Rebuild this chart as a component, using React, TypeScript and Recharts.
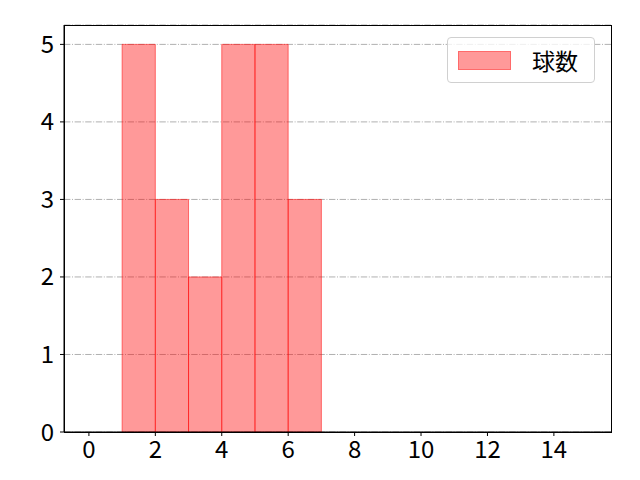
import { ComposedChart, Bar, XAxis, YAxis, CartesianGrid } from "recharts";

// histogram bins (left edge) and counts
const binStarts = [0, 1, 2, 3, 4, 5, 6, 7, 8, 9, 10, 11, 12, 13, 14];
const counts = [0, 5, 3, 2, 5, 5, 3, 0, 0, 0, 0, 0, 0, 0, 0];
const xTicks = [0, 2, 4, 6, 8, 10, 12, 14];
const yTicks = [0, 1, 2, 3, 4, 5];
const seriesName = "球数";

const data = binStarts.map((s, i) => ({ x: s + 0.5, count: counts[i] }));

const FONT = "'Noto Sans CJK JP', sans-serif";

function LegendBox() {
  return (
    <div
      style={{
        position: "absolute",
        left: 447,
        top: 37,
        width: 148,
        height: 46,
        border: "1px solid #d0d0d0",
        borderRadius: 4,
        background: "rgba(255,255,255,0.8)",
        display: "flex",
        alignItems: "center",
        fontFamily: FONT,
        fontSize: 23,
        color: "#000",
        boxSizing: "border-box",
      }}
    >
      <span
        style={{
          display: "inline-block",
          width: 53,
          height: 19,
          marginLeft: 10,
          background: "rgba(255,0,0,0.4)",
          border: "1px solid rgba(255,0,0,0.3)",
          boxSizing: "border-box",
        }}
      />
      <span style={{ marginLeft: 21 }}>{seriesName}</span>
    </div>
  );
}

export default function App() {
  return (
    <div style={{ position: "absolute", left: 0, top: 0, width: 640, height: 480, background: "#fff" }}>
      <ComposedChart
        width={640}
        height={480}
        data={data}
        margin={{ top: 25, right: 28, left: 0, bottom: 0 }}
        barCategoryGap={0}
        barGap={0}
      >
        <CartesianGrid
          vertical={false}
          stroke="#b0b0b0"
          strokeDasharray="6.4 1.6 1 1.6"
        />
        <XAxis
          dataKey="x"
          type="number"
          domain={[-0.75, 15.75]}
          ticks={xTicks}
          height={48}
          stroke="#000"
          tickSize={4}
          tickMargin={5}
          tick={{ fill: "#000", fontSize: 24, fontFamily: FONT }}
          allowDataOverflow
        />
        <YAxis
          type="number"
          domain={[0, 5.25]}
          ticks={yTicks}
          width={64}
          stroke="#000"
          tickSize={4}
          tickMargin={6}
          tick={{ fill: "#000", fontSize: 24, fontFamily: FONT }}
          allowDataOverflow
        />
        <Bar
          dataKey="count"
          name={seriesName}
          barSize={33.2}
          fill="#ff0000"
          fillOpacity={0.4}
          stroke="#ff0000"
          strokeOpacity={0.5}
          strokeWidth={1}
          isAnimationActive={false}
        />
      </ComposedChart>
      {/* top and right spines */}
      <div
        style={{
          position: "absolute",
          left: 64,
          top: 25,
          width: 548,
          height: 408,
          border: "1px solid #000",
          boxSizing: "border-box",
          pointerEvents: "none",
        }}
      />
      <LegendBox />
    </div>
  );
}
